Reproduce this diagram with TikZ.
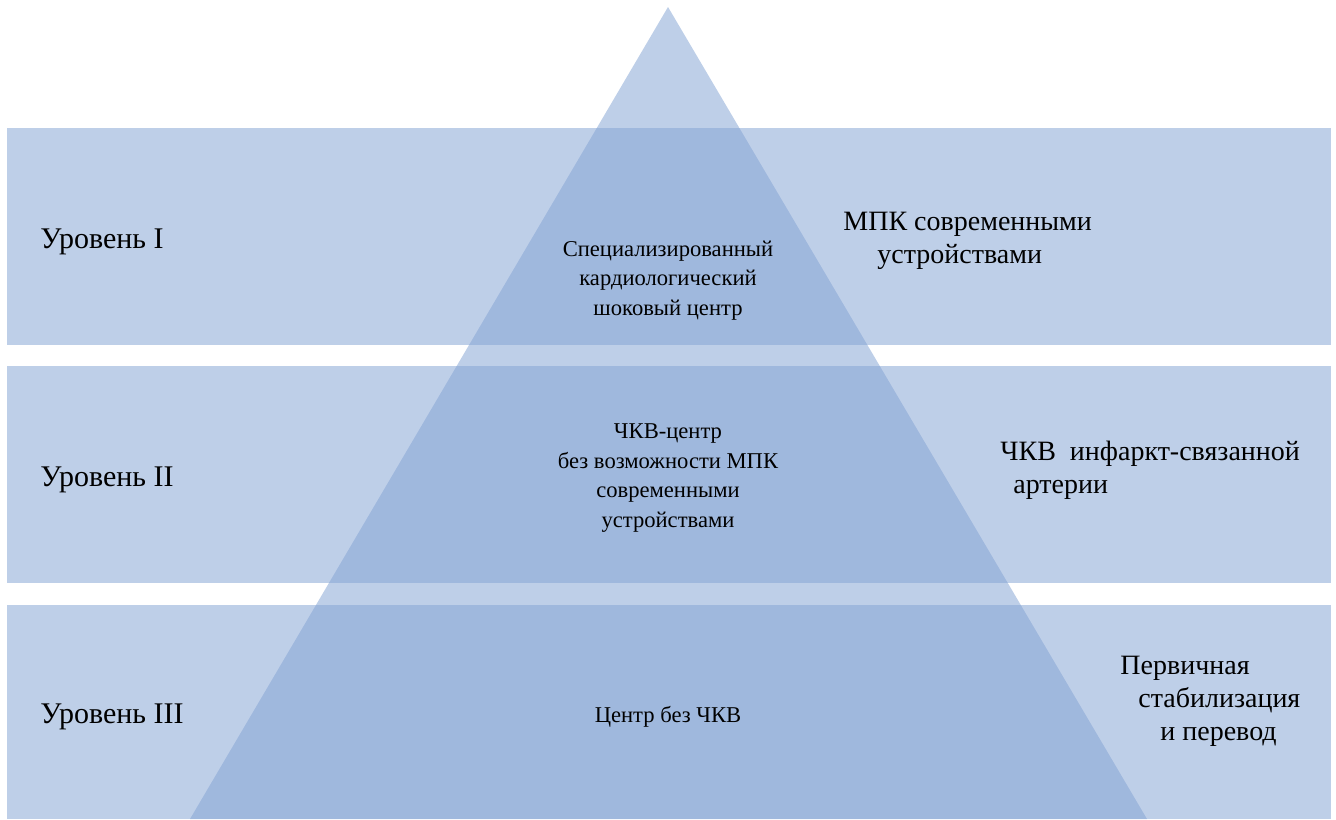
\documentclass[tikz,border=0pt]{standalone}
\usepackage{fontspec}
\setmainfont{Liberation Serif}
\usepackage{xcolor}
\usetikzlibrary{positioning}
\definecolor{levelblue}{RGB}{131,163,211}
\tikzset{
    band/.style={fill=levelblue, fill opacity=0.52, draw=none},
    levelname/.style={anchor=base west, inner sep=0pt, font=\fontsize{15}{17}\selectfont},
    centretext/.style={anchor=base, inner sep=0pt, align=center, font=\fontsize{11.3}{14.7}\selectfont},
    sidetext/.style={anchor=base west, inner sep=0pt, align=left, font=\fontsize{14}{16.5}\selectfont}
}

\begin{document}
\begin{tikzpicture}[x=0.5pt, y=-0.5pt]
    \useasboundingbox (0,0) rectangle (1336,819);

    % bands
    \fill[band] (7,128) rectangle (1331,345);
    \fill[band] (7,366) rectangle (1331,583);
    \fill[band] (7,605) rectangle (1331,819);

    % pyramid
    \fill[band] (668,7) -- (1147,819) -- (190,819) -- cycle;

    % level names
    \node (lvl1) [levelname] at (40,248) {Уровень I};
    \node (lvl2) [levelname] at (40,486) {Уровень II};
    \node (lvl3) [levelname] at (40,723) {Уровень III};

    % inside the pyramid (anchored on the last line)
    \node (ctr1) [centretext] at (668,315) {Специализированный\\кардиологический\\шоковый центр};
    \node (ctr2) [centretext] at (668,527) {ЧКВ-центр\\без возможности МПК\\современными\\устройствами};
    \node (ctr3) [centretext] at (668,722) {Центр без ЧКВ};

    % right side
    \node (act1) [sidetext] at (843,263) {МПК современными\\\hspace*{17pt}устройствами};
    \node (act2) [sidetext] at (1000,493) {ЧКВ\ \ инфаркт-связанной\\\hspace*{6.5pt}артерии};
    \node (act3) [sidetext] at (1120,740) {Первичная\\\hspace*{9pt}стабилизация\\\hspace*{20pt}и перевод};
\end{tikzpicture}
\end{document}
